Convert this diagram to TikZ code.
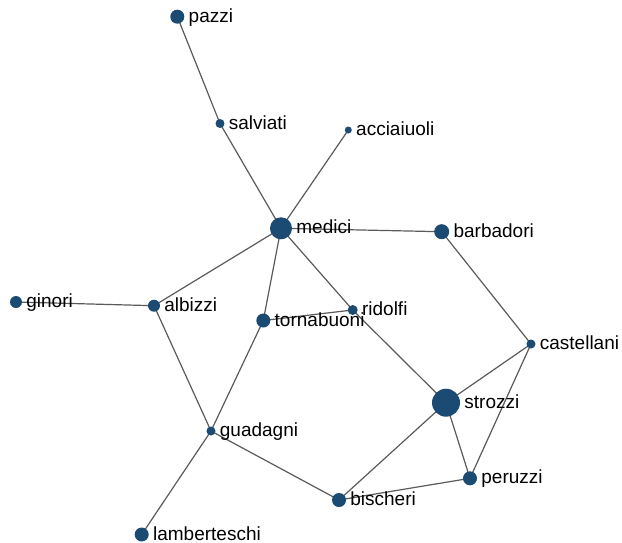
\documentclass[tikz,border=0pt]{standalone}
\usepackage{fontspec}
\setmainfont{Liberation Sans}
\usetikzlibrary{backgrounds}
\definecolor{famblue}{HTML}{1B4A72}
\definecolor{tiegray}{HTML}{5A5A5A}
\tikzset{
  fam/.style={circle, fill=famblue, inner sep=0pt, minimum size=#1},
  tie/.style={draw=tiegray, line width=1.2pt},
  famlabel/.style={anchor=base west, inner sep=0pt, font=\fontsize{19}{20}\selectfont, text=black},
}
% family node: name, x, y, radius, label
\newcommand{\family}[5]{%
  \node[fam=2*#4 pt] (#1) at (#2,#3) {};
  \node[famlabel] (#1-lbl) at ([xshift=4pt,yshift=-5.5pt]#1.east) {#5};
}
\begin{document}
\begin{tikzpicture}[x=1pt, y=-1pt]
  \useasboundingbox (0,0) rectangle (622,542);
  \family{pazzi}{177.3}{16.7}{7}{pazzi}
  \family{salviati}{220}{123.5}{4.5}{salviati}
  \family{acciaiuoli}{348.3}{130}{3.5}{acciaiuoli}
  \family{medici}{281}{228.3}{11}{medici}
  \family{barbadori}{441.7}{231.7}{7.5}{barbadori}
  \family{ginori}{16}{302}{6}{ginori}
  \family{albizzi}{154}{305.7}{6}{albizzi}
  \family{ridolfi}{352.7}{310}{5}{ridolfi}
  \family{tornabuoni}{263.3}{320.5}{7}{tornabuoni}
  \family{castellani}{531}{344}{4.5}{castellani}
  \family{strozzi}{446}{402.7}{14}{strozzi}
  \family{guadagni}{211}{431}{4.5}{guadagni}
  \family{peruzzi}{470}{478.3}{7}{peruzzi}
  \family{bischeri}{339}{500}{7}{bischeri}
  \family{lamberteschi}{141.7}{534.5}{7}{lamberteschi}
  \begin{scope}[on background layer]
    \draw[tie] (pazzi.center) -- (salviati.center);
    \draw[tie] (salviati.center) -- (medici.center);
    \draw[tie] (acciaiuoli.center) -- (medici.center);
    \draw[tie] (medici.center) -- (barbadori.center);
    \draw[tie] (medici.center) -- (albizzi.center);
    \draw[tie] (medici.center) -- (tornabuoni.center);
    \draw[tie] (medici.center) -- (ridolfi.center);
    \draw[tie] (ginori.center) -- (albizzi.center);
    \draw[tie] (albizzi.center) -- (guadagni.center);
    \draw[tie] (tornabuoni.center) -- (ridolfi.center);
    \draw[tie] (tornabuoni.center) -- (guadagni.center);
    \draw[tie] (ridolfi.center) -- (strozzi.center);
    \draw[tie] (barbadori.center) -- (castellani.center);
    \draw[tie] (castellani.center) -- (strozzi.center);
    \draw[tie] (castellani.center) -- (peruzzi.center);
    \draw[tie] (strozzi.center) -- (peruzzi.center);
    \draw[tie] (strozzi.center) -- (bischeri.center);
    \draw[tie] (guadagni.center) -- (bischeri.center);
    \draw[tie] (guadagni.center) -- (lamberteschi.center);
    \draw[tie] (bischeri.center) -- (peruzzi.center);
  \end{scope}
\end{tikzpicture}
\end{document}
